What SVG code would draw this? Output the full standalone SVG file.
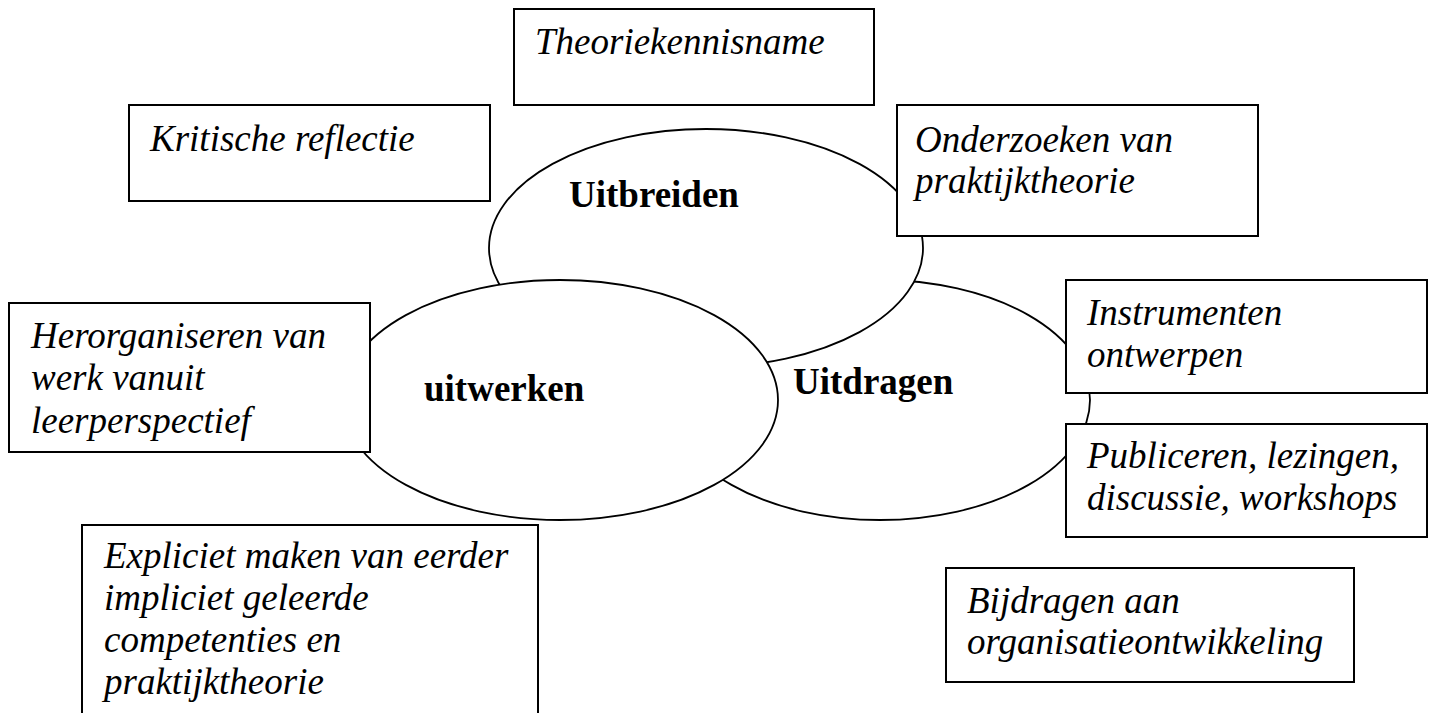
<svg xmlns="http://www.w3.org/2000/svg" width="1431" height="713" viewBox="0 0 1431 713">
<style>
.bg{fill:#fff}
.ell{fill:#fff;stroke:#000;stroke-width:1.8}
.box{fill:#fff;stroke:#000;stroke-width:2}
.it{font-family:"Liberation Serif","Times New Roman",serif;font-style:italic;font-size:37px;fill:#000}
.bd{font-family:"Liberation Serif","Times New Roman",serif;font-weight:bold;font-size:37px;fill:#000}
</style>
<rect class="bg" x="0" y="0" width="1431" height="713"/>
<g id="uitdragen">
<ellipse class="ell" cx="880" cy="400" rx="210" ry="120"/>
</g>
<g id="uitbreiden">
<ellipse class="ell" cx="706" cy="248" rx="217" ry="119"/>
</g>
<g id="uitwerken">
<ellipse class="ell" cx="560" cy="400" rx="218" ry="120"/>
</g>
<g id="label-uitbreiden"><text class="bd" x="569" y="207">Uitbreiden</text></g>
<g id="label-uitwerken"><text class="bd" x="424" y="401">uitwerken</text></g>
<g id="label-uitdragen"><text class="bd" x="793" y="394">Uitdragen</text></g>
<g id="connectors"></g>
<g id="theoriekennisname">
<rect class="box" x="514" y="9" width="360" height="96"/>
<text class="it" x="535" y="54">Theoriekennisname</text>
</g>
<g id="kritische-reflectie">
<rect class="box" x="129" y="105" width="361" height="96"/>
<text class="it" x="150" y="151">Kritische reflectie</text>
</g>
<g id="onderzoeken">
<rect class="box" x="897" y="105" width="361" height="131"/>
<text class="it" x="915" y="152">Onderzoeken van</text>
<text class="it" x="915" y="193">praktijktheorie</text>
</g>
<g id="herorganiseren">
<rect class="box" x="9" y="303" width="361" height="149"/>
<text class="it" x="31" y="348">Herorganiseren van</text>
<text class="it" x="31" y="390">werk vanuit</text>
<text class="it" x="31" y="433">leerperspectief</text>
</g>
<g id="instrumenten">
<rect class="box" x="1066" y="280" width="361" height="113"/>
<text class="it" x="1087" y="325">Instrumenten</text>
<text class="it" x="1087" y="367">ontwerpen</text>
</g>
<g id="publiceren">
<rect class="box" x="1066" y="424" width="361" height="113"/>
<text class="it" x="1087" y="468">Publiceren, lezingen,</text>
<text class="it" x="1087" y="510">discussie, workshops</text>
</g>
<g id="expliciet">
<rect class="box" x="82" y="525" width="456" height="195"/>
<text class="it" x="104" y="568">Expliciet maken van eerder</text>
<text class="it" x="104" y="610">impliciet geleerde</text>
<text class="it" x="104" y="652">competenties en</text>
<text class="it" x="104" y="694">praktijktheorie</text>
</g>
<g id="bijdragen">
<rect class="box" x="946" y="568" width="408" height="114"/>
<text class="it" x="967" y="613">Bijdragen aan</text>
<text class="it" x="967" y="654">organisatieontwikkeling</text>
</g>
</svg>
